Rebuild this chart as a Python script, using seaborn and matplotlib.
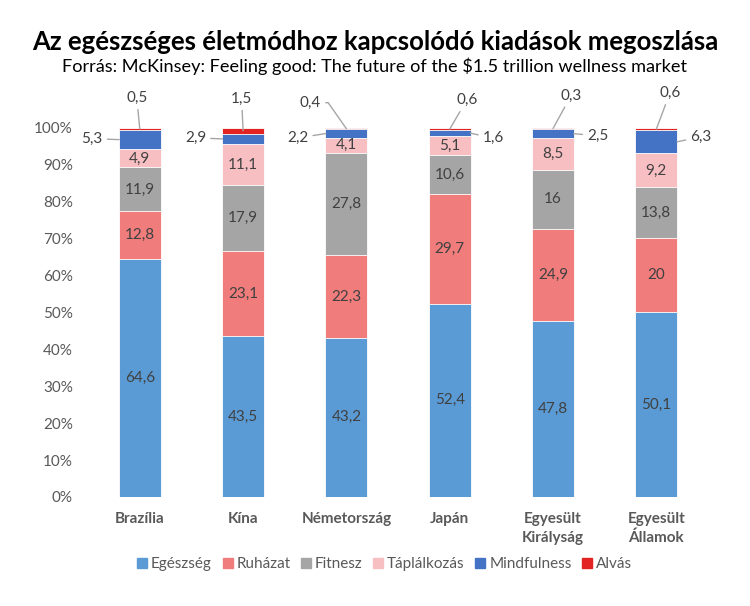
import numpy as np
import pandas as pd
import seaborn as sns
import matplotlib.pyplot as plt

# data (share of spending, %)
countries = ["Brazília", "Kína", "Németország", "Japán",
             "Egyesült\nKirályság", "Egyesült\nÁllamok"]
categories = ["Egészség", "Ruházat", "Fitnesz", "Táplálkozás", "Mindfulness", "Alvás"]
egeszseg = [64.6, 43.5, 43.2, 52.4, 47.8, 50.1]
ruhazat = [12.8, 23.1, 22.3, 29.7, 24.9, 20.0]
fitnesz = [11.9, 17.9, 27.8, 10.6, 16.0, 13.8]
taplalkozas = [4.9, 11.1, 4.1, 5.1, 8.5, 9.2]
mindfulness = [5.3, 2.9, 2.2, 1.6, 2.5, 6.3]
alvas = [0.5, 1.5, 0.4, 0.6, 0.3, 0.6]

colors = ["#5B9BD5", "#F07C7C", "#A5A5A5", "#F8BFC3", "#4472C4", "#E32322"]


def fmt(v):
    return f"{v:g}".replace(".", ",")


def main():
    sns.set_theme(style="white")
    plt.rcParams["font.family"] = ["Lato", "DejaVu Sans"]

    series = [egeszseg, ruhazat, fitnesz, taplalkozas, mindfulness, alvas]
    df = pd.DataFrame({"Ország": countries})
    for name, vals in zip(categories, series):
        df[name] = vals
    cum = df[categories].cumsum(axis=1)
    cum["Ország"] = countries

    fig = plt.figure(figsize=(7.5, 6.06), dpi=100)
    ax = fig.add_axes([0.1175, 0.1799, 0.8265, 0.6089])

    # stacked bars: draw cumulative totals from the top series down
    for name, col in reversed(list(zip(categories, colors))):
        sns.barplot(x="Ország", y=name, data=cum, color=col, width=0.405,
                    saturation=1, edgecolor="white", linewidth=0.6, ax=ax)

    ax.set_ylim(0, 100)
    ax.set_xlim(-0.5, len(countries) - 0.5)
    ax.set_yticks(np.arange(0, 101, 10))
    ax.set_yticklabels([f"{t}%" for t in range(0, 101, 10)],
                       fontsize=11, color="#595959")
    ax.set_xticks(range(len(countries)))
    ax.set_xticklabels(countries, fontsize=11, fontweight="bold", color="#595959",
                       linespacing=1.4)
    ax.tick_params(axis="y", length=0, pad=11)
    ax.tick_params(axis="x", length=0, pad=11)
    ax.set_xlabel("")
    ax.set_ylabel("")
    sns.despine(ax=ax, left=True, bottom=True)

    # labels inside big segments
    for j in range(4):
        vals = df[categories[j]]
        tops = cum[categories[j]]
        for i, v in enumerate(vals):
            ax.text(i, tops[i] - v / 2, fmt(v), ha="center", va="center",
                    fontsize=11, color="#404040")

    # callout labels for the small segments (offsets in pixels)
    alv_off = [(-3, 31), (-1.5, 32), (-36, 26), (17, 29), (18, 33), (13.5, 36)]
    alv_conn = ["arc3", "arc3", "angle,angleA=0,angleB=-55,rad=0",
                "arc3", "arc3", "arc3"]
    mind_off = [(-27, 1), (-27, 1), (-28, -4.5), (23, -5), (24, -2), (24, 5)]
    for i in range(len(countries)):
        line = dict(arrowstyle="-", color="#A6A6A6", lw=1.0, shrinkA=1,
                    shrinkB=0, connectionstyle=alv_conn[i])
        top = cum["Alvás"][i]
        ax.annotate(fmt(alvas[i]), xy=(i, top - alvas[i] / 2),
                    xytext=alv_off[i], textcoords="offset pixels",
                    ha="center", va="center", fontsize=11, color="#404040",
                    arrowprops=line, annotation_clip=False)
        side = -0.2 if mind_off[i][0] < 0 else 0.2
        y = cum["Mindfulness"][i] - mindfulness[i] / 2
        line = dict(arrowstyle="-", color="#A6A6A6", lw=1.0, shrinkA=1, shrinkB=0)
        ax.annotate(fmt(mindfulness[i]), xy=(i + side, y),
                    xytext=mind_off[i], textcoords="offset pixels",
                    ha="center", va="center", fontsize=11, color="#404040",
                    arrowprops=line, annotation_clip=False)

    handles = [plt.Rectangle((0, 0), 1, 1, color=c) for c in colors]
    fig.legend(handles, categories, loc="center", bbox_to_anchor=(0.513, 0.069),
               ncol=6, frameon=False, fontsize=11, handlelength=0.65,
               handleheight=0.65, handletextpad=0.25, columnspacing=0.7,
               labelcolor="#595959")

    fig.text(0.5, 0.931, "Az egészséges életmódhoz kapcsolódó kiadások megoszlása",
             ha="center", va="center", fontsize=18.5, fontweight="bold", color="black")
    fig.text(0.5, 0.891,
             r"Forrás: McKinsey: Feeling good: The future of the \$1.5 trillion wellness market",
             ha="center", va="center", fontsize=13.1, color="black")

    fig.savefig("out.png", dpi=100)


if __name__ == "__main__":
    main()
